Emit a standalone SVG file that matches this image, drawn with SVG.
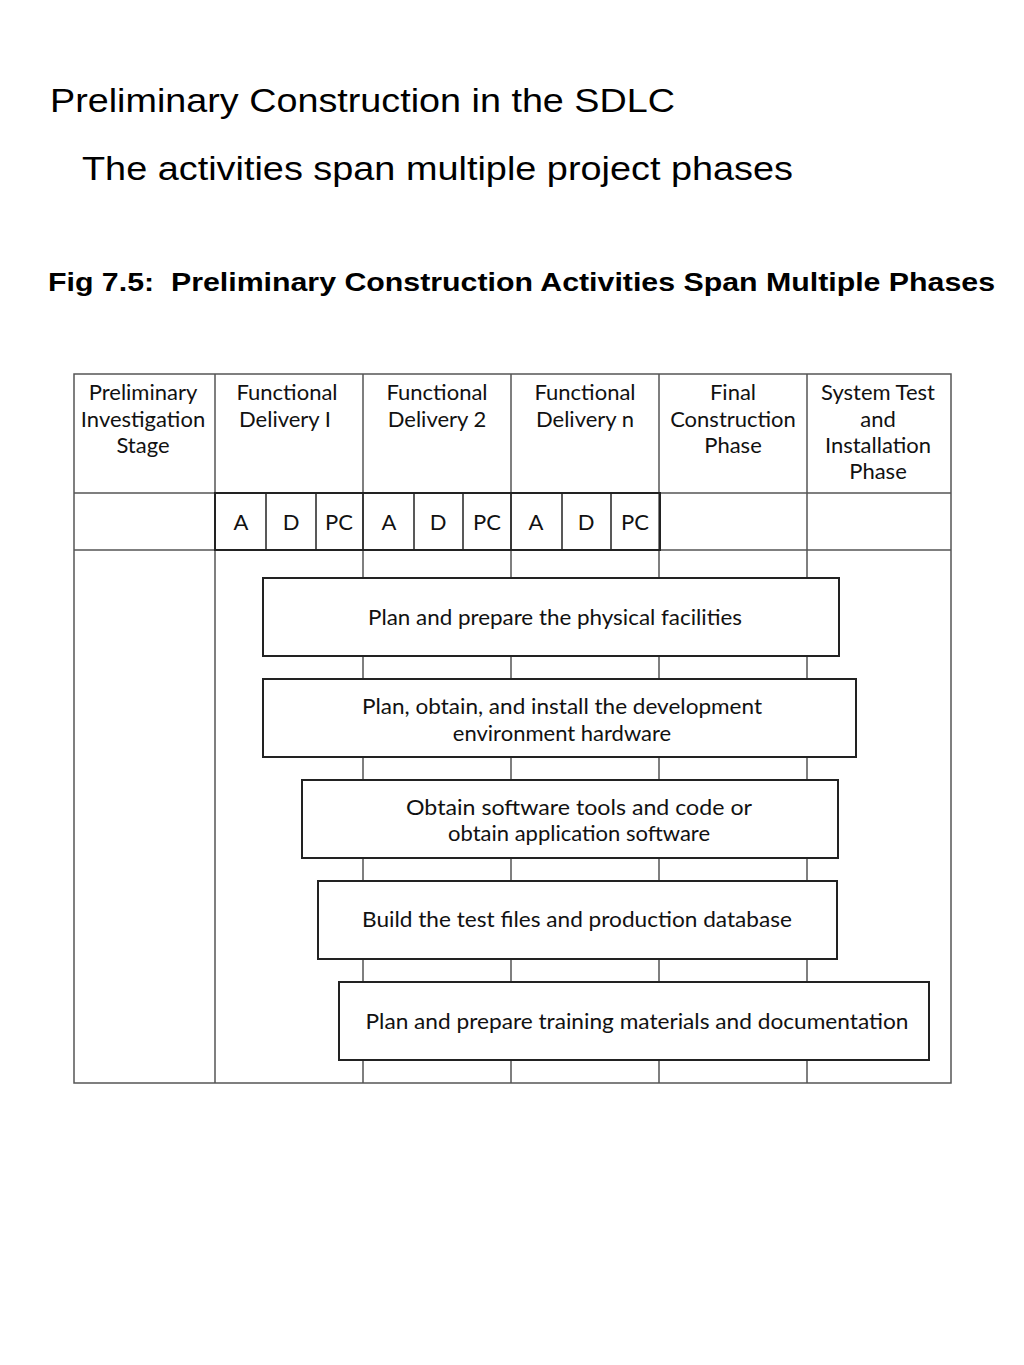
<svg xmlns="http://www.w3.org/2000/svg" width="1024" height="1365" viewBox="0 0 1024 1365">
<style>
.h{font-family:"Liberation Sans",Arial,sans-serif;fill:#000}
.t{font-family:Lato,"Open Sans",sans-serif;font-size:22px;fill:#111;text-anchor:middle}
.g{stroke:#555;stroke-width:1.5;fill:none}
.k{stroke:#222;stroke-width:2;fill:#fff}
</style>
<rect width="1024" height="1365" fill="#fff"/>
<text class="h" x="50" y="112" font-size="33" textLength="625" lengthAdjust="spacingAndGlyphs">Preliminary Construction in the SDLC</text>
<text class="h" x="82" y="180" font-size="33" textLength="711" lengthAdjust="spacingAndGlyphs">The activities span multiple project phases</text>
<text class="h" x="48" y="291" font-size="26" font-weight="bold" textLength="947" lengthAdjust="spacingAndGlyphs">Fig 7.5: &#160;Preliminary Construction Activities Span Multiple Phases</text>
<g id="grid">
<rect class="g" x="74" y="374" width="877" height="709"/>
<line class="g" x1="74" y1="493" x2="951" y2="493"/>
<line class="g" x1="74" y1="550" x2="951" y2="550"/>
<line class="g" x1="215" y1="374" x2="215" y2="1083"/>
<line class="g" x1="363" y1="374" x2="363" y2="1083"/>
<line class="g" x1="511" y1="374" x2="511" y2="1083"/>
<line class="g" x1="659" y1="374" x2="659" y2="1083"/>
<line class="g" x1="807" y1="374" x2="807" y2="1083"/>
</g>
<g id="headers">
<text class="t" x="143" y="400">Preliminary</text>
<text class="t" x="143" y="427">Investigation</text>
<text class="t" x="143" y="453">Stage</text>
<text class="t" x="287" y="400">Functional</text>
<text class="t" x="285" y="427">Delivery I</text>
<text class="t" x="437" y="400">Functional</text>
<text class="t" x="437" y="427">Delivery 2</text>
<text class="t" x="585" y="400">Functional</text>
<text class="t" x="585" y="427">Delivery n</text>
<text class="t" x="733" y="400">Final</text>
<text class="t" x="733" y="427">Construction</text>
<text class="t" x="733" y="453">Phase</text>
<text class="t" x="878" y="400">System Test</text>
<text class="t" x="878" y="427">and</text>
<text class="t" x="878" y="453">Installation</text>
<text class="t" x="878" y="479">Phase</text>
</g>
<g id="subphases">
<rect x="215" y="493" width="445" height="57" fill="none" stroke="#222" stroke-width="2"/>
<g stroke="#222" stroke-width="1.5">
<line x1="266" y1="493" x2="266" y2="550"/><line x1="316" y1="493" x2="316" y2="550"/>
<line x1="363" y1="493" x2="363" y2="550"/><line x1="414" y1="493" x2="414" y2="550"/>
<line x1="463" y1="493" x2="463" y2="550"/><line x1="511" y1="493" x2="511" y2="550"/>
<line x1="562" y1="493" x2="562" y2="550"/><line x1="611" y1="493" x2="611" y2="550"/>
</g>
<text class="t" x="241" y="530">A</text><text class="t" x="291" y="530">D</text><text class="t" x="339" y="530">PC</text>
<text class="t" x="389" y="530">A</text><text class="t" x="438" y="530">D</text><text class="t" x="487" y="530">PC</text>
<text class="t" x="536" y="530">A</text><text class="t" x="586" y="530">D</text><text class="t" x="635" y="530">PC</text>
</g>
<g id="a1"><rect class="k" x="263" y="578" width="576" height="78"/><text class="t" x="555" y="625" textLength="374" lengthAdjust="spacingAndGlyphs">Plan and prepare the physical facilities</text></g>
<g id="a2"><rect class="k" x="263" y="679" width="593" height="78"/><text class="t" x="562" y="714" textLength="400" lengthAdjust="spacingAndGlyphs">Plan, obtain, and install the development</text><text class="t" x="562" y="741">environment hardware</text></g>
<g id="a3"><rect class="k" x="302" y="780" width="536" height="78"/><text class="t" x="579" y="815" textLength="346" lengthAdjust="spacingAndGlyphs">Obtain software tools and code or</text><text class="t" x="579" y="841">obtain application software</text></g>
<g id="a4"><rect class="k" x="318" y="881" width="519" height="78"/><text class="t" x="577" y="927" textLength="430" lengthAdjust="spacingAndGlyphs">Build the test files and production database</text></g>
<g id="a5"><rect class="k" x="339" y="982" width="590" height="78"/><text class="t" x="637" y="1029" textLength="543" lengthAdjust="spacingAndGlyphs">Plan and prepare training materials and documentation</text></g>
</svg>
